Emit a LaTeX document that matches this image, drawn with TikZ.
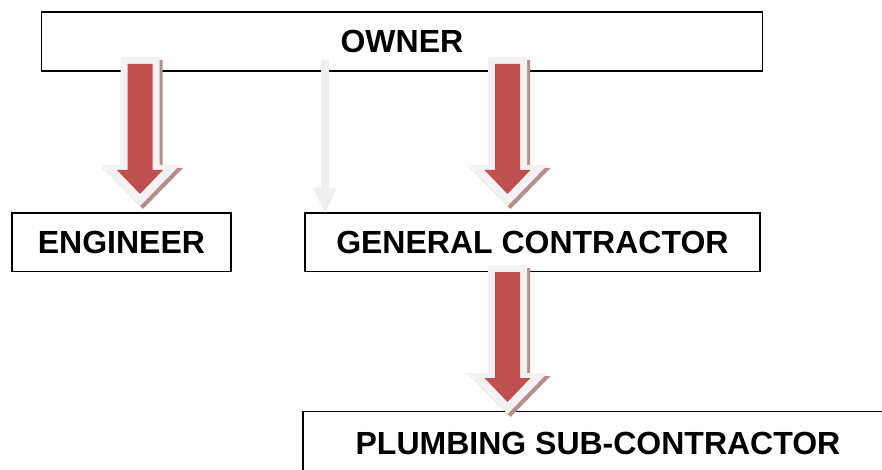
\documentclass[tikz,border=0pt]{standalone}
\usepackage{fontspec}
\setmainfont{Liberation Sans}
\definecolor{arrred}{HTML}{C0504D}
\definecolor{arrrim}{HTML}{F2F2F2}
\definecolor{arrshadow}{HTML}{B48E8E}
\definecolor{thinarr}{HTML}{EFEFEF}
\tikzset{
  box/.style={draw=black, line width=1.8pt, fill=white, inner sep=0pt, anchor=north west},
  lbl/.style={font=\fontsize{32}{36}\selectfont\bfseries, inner sep=0pt},
  fatarrow/.pic={
    \fill[arrshadow] (-16.5,3) -- (22.5,3) -- (22.5,111) -- (43,111) -- (3,152) -- (-37,111) -- (-16.5,111) -- cycle;
    \fill[arrrim] (-19.5,0) -- (19.5,0) -- (19.5,108) -- (40,108) -- (0,149) -- (-40,108) -- (-19.5,108) -- cycle;
    \fill[arrred] (-12.5,7) -- (12.5,7) -- (12.5,113) -- (23,113) -- (0,137) -- (-23,113) -- (-12.5,113) -- cycle;
  },
  thinarrow/.pic={
    \fill[thinarr] (-4,0) -- (4,0) -- (4,128) -- (12,128) -- (0,153) -- (-12,128) -- (-4,128) -- cycle;
  }
}
\begin{document}
\begin{tikzpicture}[x=1pt,y=-1pt]
  \clip (0,0) rectangle (882,470);
  \useasboundingbox (0,0) rectangle (882,470);
  \fill[white] (0,0) rectangle (882,470);
  % boxes
  \node[box, minimum width=721, minimum height=59] (owner) at (40.5,11) {};
  \node[lbl] (ownertxt) at (owner.center) {OWNER};
  \node[box, minimum width=219, minimum height=58] (eng) at (11,212.5) {};
  \node[lbl] (engtxt) at (eng.center) {ENGINEER};
  \node[box, minimum width=455, minimum height=58] (gc) at (304,212.5) {};
  \node[lbl] (gctxt) at (gc.center) {GENERAL CONTRACTOR};
  \node[box, minimum width=640, minimum height=120] (plumb) at (302,410.5) {};
  \node[lbl] (plumbtxt) at (598,443) {PLUMBING SUB-CONTRACTOR};
  % connectors
  \coordinate (a1) at (140,57);
  \coordinate (a2) at (507.5,57);
  \coordinate (a3) at (507.5,265);
  \coordinate (t1) at (325,60);
  \pic at (a1) {fatarrow};
  \pic at (a2) {fatarrow};
  \pic at (a3) {fatarrow};
  \pic at (t1) {thinarrow};
\end{tikzpicture}
\end{document}
